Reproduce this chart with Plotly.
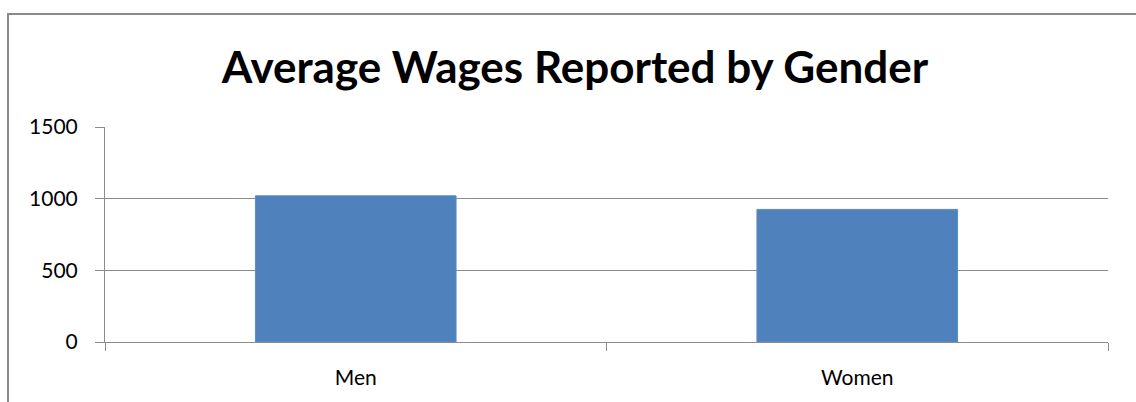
import plotly.graph_objects as go

# Average reported wages by gender
genders = ["Men", "Women"]
avg_wages = [1020, 925]
y_ticks = [0, 500, 1000, 1500]

W, H = 1136, 402
L, R, T, B = 105, 28, 127, 60
pw, ph = W - L - R, H - T - B

GRID = "#8c8c8c"
FONT = "Lato"

fig = go.Figure(
    go.Bar(
        x=genders,
        y=avg_wages,
        width=0.4,
        marker=dict(color="#4F81BD", line=dict(color="#5a8cc6", width=1)),
    )
)

fig.update_layout(
    width=W,
    height=H,
    margin=dict(l=L, r=R, t=T, b=B),
    paper_bgcolor="white",
    plot_bgcolor="white",
    showlegend=False,
    title=dict(
        text="<b>Average Wages Reported by Gender</b>",
        x=0.5 + (575 - W / 2) / W,
        xanchor="center",
        y=1 - 68 / H,
        yanchor="middle",
        yref="container",
        font=dict(family=FONT, size=44, color="black"),
    ),
    xaxis=dict(
        type="category",
        showline=True,
        linecolor=GRID,
        linewidth=1,
        ticks="outside",
        tickson="boundaries",
        ticklen=8,
        tickcolor=GRID,
        showgrid=False,
        tickfont=dict(family=FONT, size=21, color="black"),
        ticklabelstandoff=17,
    ),
    yaxis=dict(
        range=[0, 1500],
        tickvals=y_ticks,
        showline=True,
        linecolor=GRID,
        linewidth=1,
        showgrid=True,
        gridcolor=GRID,
        gridwidth=1,
        ticks="outside",
        ticklen=9,
        tickcolor=GRID,
        zeroline=False,
        tickfont=dict(family=FONT, size=21, color="black"),
        ticklabelstandoff=13,
    ),
)

# Outer chart frame (left and top edges visible, rest runs off the page)
x_left = (8 - L) / pw
y_top = (H - B - 14) / ph
fig.add_shape(
    type="rect",
    xref="paper",
    yref="paper",
    x0=x_left,
    x1=1.2,
    y0=-0.6,
    y1=y_top,
    line=dict(color="#8a8a8a", width=2),
    fillcolor="rgba(0,0,0,0)",
    layer="below",
)

fig.write_html("out.html")
